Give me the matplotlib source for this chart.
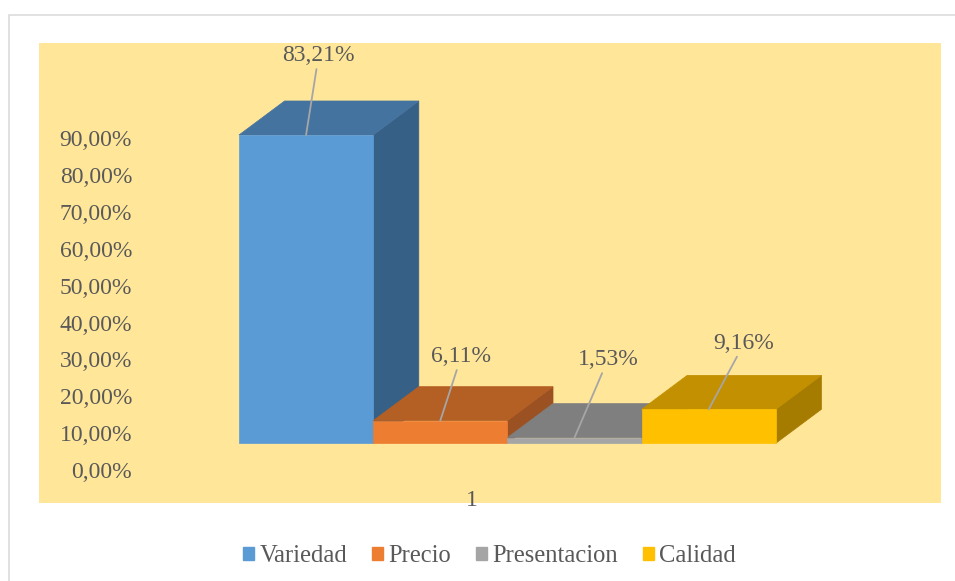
import matplotlib.pyplot as plt
from matplotlib.patches import Polygon, Rectangle, Patch

plt.rcParams['font.family'] = ['Liberation Serif', 'DejaVu Serif']

# Data
categories = ["Variedad", "Precio", "Presentacion", "Calidad"]
values = [83.21, 6.11, 1.53, 9.16]
value_ticks = [0, 10, 20, 30, 40, 50, 60, 70, 80, 90]
category_label = "1"

# Face colours for each bar: front, top, side
front_colors = ["#5B9BD5", "#ED7D31", "#A5A5A5", "#FFC000"]
top_colors = ["#45739F", "#B45F24", "#7F7F7F", "#C29000"]
side_colors = ["#376087", "#9B5121", "#6E6E6E", "#A67C00"]

# label offsets (points) from the front-top centre of each bar
label_offsets = [(9, 57), (15, 46), (24, 56), (25.5, 47.5)]

TEXT = "#595959"
FS = 17
FS_LEG = 17.7
DEPTH_X = 0.34     # depth offset in bar widths
DEPTH_Y = 9.18     # depth offset in value units

fig = plt.figure(figsize=(9.55, 5.81), dpi=100)

# chart border
fig.patches.append(Rectangle((9 / 955, -0.1), 2, 1 - 15 / 581 + 0.1,
                             transform=fig.transFigure, fill=False,
                             edgecolor="#D9D9D9", lw=1.1))

ax = fig.add_axes([39 / 955, 78 / 581, 902 / 955, 460 / 581])
ax.set_facecolor("#FFE699")
ax.set_xlim(-1.49, 5.231)
ax.set_ylim(-16.11, 108.04)
for s in ax.spines.values():
    s.set_visible(False)

# 3d-looking bars, drawn left to right so later bars overlap earlier sides
for i, v in enumerate(values):
    z = 2 + i
    x0, x1 = i, i + 1
    side = [(x1, 0), (x1 + DEPTH_X, DEPTH_Y), (x1 + DEPTH_X, v + DEPTH_Y), (x1, v)]
    top = [(x0, v), (x1, v), (x1 + DEPTH_X, v + DEPTH_Y), (x0 + DEPTH_X, v + DEPTH_Y)]
    front = [(x0, 0), (x1, 0), (x1, v), (x0, v)]
    ax.add_patch(Polygon(side, closed=True, facecolor=side_colors[i],
                         edgecolor=side_colors[i], lw=0.5, zorder=z))
    ax.add_patch(Polygon(top, closed=True, facecolor=top_colors[i],
                         edgecolor=top_colors[i], lw=0.5, zorder=z))
    ax.add_patch(Polygon(front, closed=True, facecolor=front_colors[i],
                         edgecolor=front_colors[i], lw=0.5, zorder=z))

# data labels with leader lines
for i, v in enumerate(values):
    ax.annotate(f"{v:.2f}%".replace(".", ","), xy=(i + 0.5, v),
                xytext=label_offsets[i], textcoords="offset points",
                ha="center", va="center", fontsize=FS, color=TEXT, zorder=10,
                arrowprops=dict(arrowstyle="-", color="#A6A6A6", lw=1.3,
                                shrinkA=0, shrinkB=0))

# category axis label
ax.set_xticks([1.736])
ax.set_xticklabels([category_label], fontsize=FS, color=TEXT)
ax.tick_params(axis="x", length=0, pad=-9.4)

# value axis, drawn on the back wall of the plot
ax_val = ax.twinx()
ax_val.yaxis.tick_left()
ax_val.set_ylim(-8.955, 115.87)
ax_val.set_yticks(value_ticks)
ax_val.set_yticklabels([f"{t:.2f}%".replace(".", ",") for t in value_ticks],
                       fontsize=FS, color=TEXT)
ax_val.tick_params(axis="y", length=0, pad=-67)
for s in ax_val.spines.values():
    s.set_visible(False)
ax.set_yticks([])

# legend
handles = [Patch(facecolor=c, edgecolor=c) for c in front_colors]
fig.legend(handles, categories, loc="center", ncol=4,
           bbox_to_anchor=(489.5 / 955, 1 - 556 / 581), frameon=False,
           fontsize=FS_LEG, labelcolor=TEXT, handlelength=0.45, handleheight=0.45,
           handletextpad=0.22, columnspacing=1.0)

fig.savefig("out.png", dpi=100)
